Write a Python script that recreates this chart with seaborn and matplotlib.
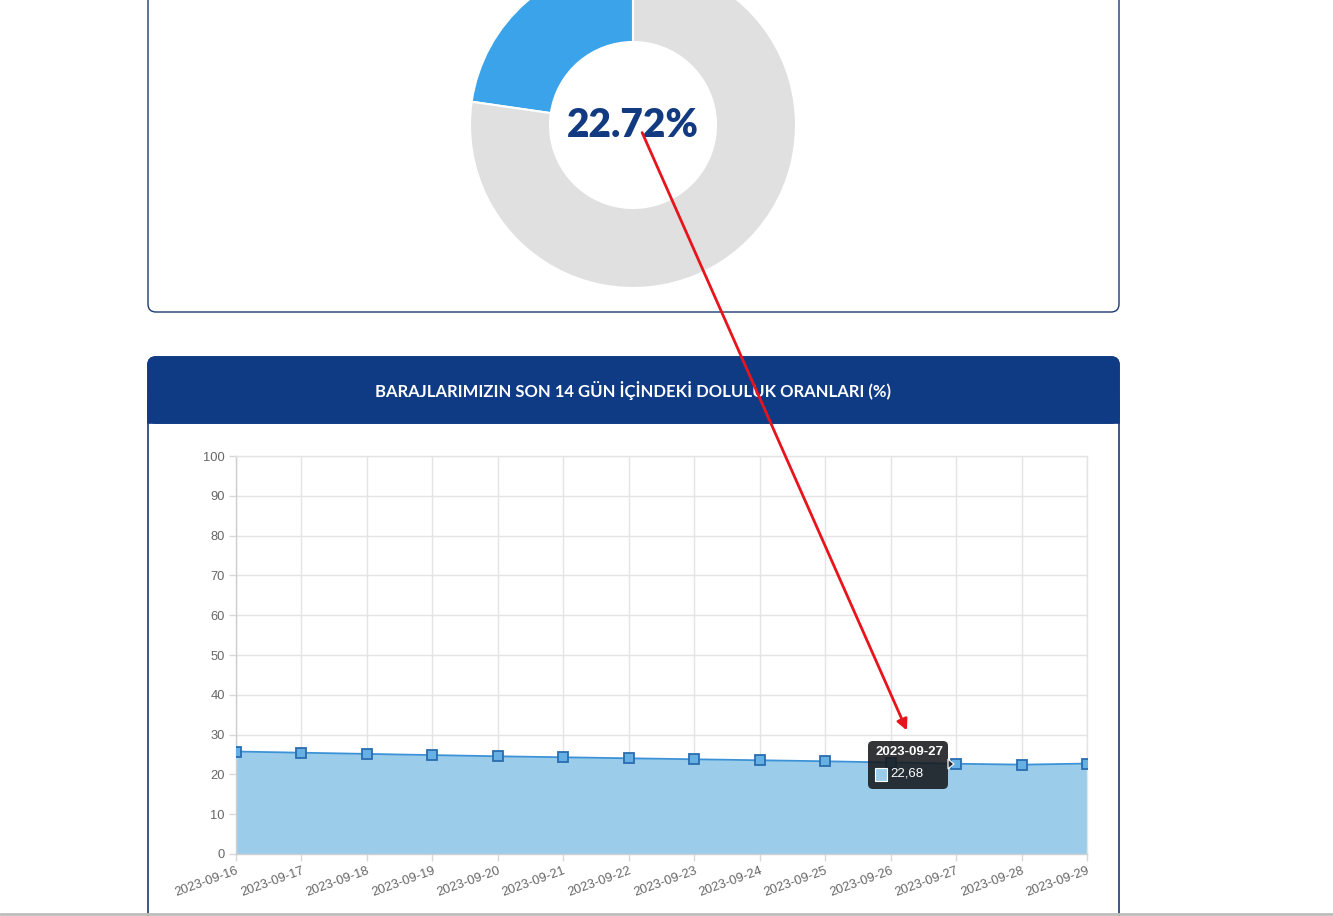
import matplotlib
matplotlib.use("Agg")
import matplotlib.pyplot as plt
import seaborn as sns
import numpy as np
import pandas as pd
from matplotlib.patches import FancyBboxPatch, Rectangle

# ---------------- data ----------------
dates = ["2023-09-16", "2023-09-17", "2023-09-18", "2023-09-19", "2023-09-20",
         "2023-09-21", "2023-09-22", "2023-09-23", "2023-09-24", "2023-09-25",
         "2023-09-26", "2023-09-27", "2023-09-28", "2023-09-29"]
fill_rate = [25.75, 25.45, 25.15, 24.85, 24.55, 24.3, 24.05, 23.8, 23.55, 23.3,
             22.98, 22.68, 22.45, 22.72]
current_pct = 22.72
donut_values = [current_pct, 100 - current_pct]
donut_colors = ["#3aa3ea", "#e0e0e0"]
y_ticks = list(range(0, 101, 10))
title = "BARAJLARIMIZIN SON 14 GÜN İÇİNDEKİ DOLULUK ORANLARI (%)"
tooltip_title = "2023-09-27"
tooltip_value = "22,68"

sns.set_theme(style="white")
plt.rcParams["font.family"] = ["Liberation Sans", "DejaVu Sans"]

W, H = 1333, 916
fig = plt.figure(figsize=(W / 100, H / 100), dpi=100)
fig.patch.set_facecolor("white")

def fx(px):
    return px / W

def fy(py):
    return 1 - py / H

# background axes in pixel coordinates
bg = fig.add_axes([0, 0, 1, 1], zorder=0)
bg.set_xlim(0, W)
bg.set_ylim(H, 0)
bg.axis("off")

navy = "#0f3b85"
border = "#1b3a6e"

# top card
bg.add_patch(FancyBboxPatch((148, -20), 1119 - 148, 312 + 20,
                            boxstyle="round,pad=0,rounding_size=8",
                            fc="white", ec=border, lw=1.0))
# bottom card body
bg.add_patch(FancyBboxPatch((148, 357), 1119 - 148, 700,
                            boxstyle="round,pad=0,rounding_size=8",
                            fc="white", ec=border, lw=1.2))
# header
bg.add_patch(FancyBboxPatch((148, 357), 1119 - 148, 66,
                            boxstyle="round,pad=0,rounding_size=8",
                            fc=navy, ec=navy, lw=1.2))
bg.add_patch(Rectangle((148, 400), 1119 - 148, 23, fc=navy, ec=navy, lw=1.2))
bg.text(633, 391, title, color="white", fontsize=12, fontweight="bold",
        ha="center", va="center", family=["Lato", "DejaVu Sans"])
# bottom browser line
bg.plot([0, W], [914, 914], color="#bdbdbd", lw=2)

# ---------------- donut ----------------
R = 163
cx, cy = 633, 125
dax = fig.add_axes([fx(cx - R), fy(cy + R), 2 * R / W, 2 * R / H], zorder=1)
dax.pie(donut_values, colors=donut_colors, startangle=90, counterclock=True,
        radius=1.0, wedgeprops=dict(width=(163 - 83) / 163, edgecolor="white", linewidth=1.5))
dax.set_xlim(-1, 1)
dax.set_ylim(-1, 1)
dax.set_aspect("equal")
dax.axis("off")
dax.text(0, 0, f"{current_pct:.2f}%", ha="center", va="center", color="#123a80",
         fontsize=28, fontweight="heavy", family=["Lato", "DejaVu Sans"])

# ---------------- line chart ----------------
x0, x1, y0, y1 = 236, 1087, 456, 854
ax = fig.add_axes([fx(x0), fy(y1), (x1 - x0) / W, (y1 - y0) / H], zorder=2)
df = pd.DataFrame({"idx": np.arange(len(dates)), "date": dates, "value": fill_rate})
ax.fill_between(df["idx"], 0, df["value"], color="#9bcdea", zorder=1, lw=0)
sns.lineplot(data=df, x="idx", y="value", ax=ax, color="#3b92d6", lw=1.3,
             marker="s", markersize=6.5, markerfacecolor="#66b0e4",
             markeredgecolor="#2a6db0", markeredgewidth=1.3, zorder=3)
ax.set_xlim(0, len(dates) - 1)
ax.set_ylim(0, 100)
ax.set_yticks(y_ticks)
ax.set_yticklabels([str(t) for t in y_ticks])
ax.set_xticks(df["idx"])
ax.set_xticklabels(dates, rotation=20, ha="right", va="top", rotation_mode="anchor")
ax.set_xlabel("")
ax.set_ylabel("")
ax.grid(True, color="#e4e4e4", lw=1, zorder=0)
ax.set_axisbelow(True)
for s in ax.spines.values():
    s.set_color("#e4e4e4")
    s.set_linewidth(1)
ax.spines["left"].set_color("#cfcfcf")
ax.spines["bottom"].set_color("#cfcfcf")
ax.tick_params(axis="both", colors="#666666", labelsize=9.3, length=5, width=1,
               pad=3, left=True, bottom=True)
ax.tick_params(axis="both", color="#d8d8d8")
ax.set_facecolor("white")

# ---------------- overlay: tooltip + arrow ----------------
ov = fig.add_axes([0, 0, 1, 1], zorder=5)
ov.set_xlim(0, W)
ov.set_ylim(H, 0)
ov.axis("off")
ov.patch.set_alpha(0)
ov.add_patch(FancyBboxPatch((868, 741), 80, 48, boxstyle="round,pad=0,rounding_size=5",
                            fc="#16191c", ec="none", alpha=0.88))
ov.add_patch(plt.Polygon([[948, 759], [954, 764], [948, 769]], fc="#16191c", alpha=0.88))
ov.text(875, 752, tooltip_title, color="white", fontsize=9.5, fontweight="bold",
        ha="left", va="center")
ov.add_patch(Rectangle((875, 768), 12, 13, fc="#9bcdea", ec="white", lw=0.8))
ov.text(890, 774, tooltip_value, color="white", fontsize=9.5, ha="left", va="center")
ov.annotate("", xy=(908, 733), xytext=(641, 130),
            arrowprops=dict(arrowstyle="-|>", color="#e8141c", lw=2, mutation_scale=16))

fig.savefig("out.png", dpi=100)
